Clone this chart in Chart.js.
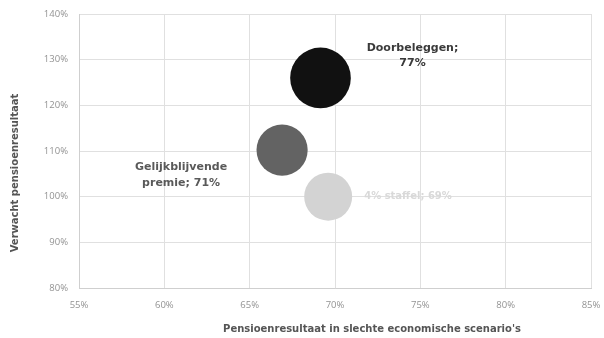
<!DOCTYPE html>
<html lang="nl">
<head>
    <meta charset="UTF-8">
    <title>Pensioenresultaat</title>
    <style>
        * { margin: 0; padding: 0; box-sizing: border-box; }
        body { background: #fff; }
        .wrap { width: 604px; height: 338px; position: relative; }
    </style>
</head>
<body>
    <div class="wrap"><canvas id="bubbleChart"></canvas></div>

    <script src="https://cdn.jsdelivr.net/npm/chart.js"></script>
    <script>
        // scenario's: x = slechte scenario's, y = verwacht resultaat, size = label waarde
        const namen = ['Doorbeleggen', 'Gelijkblijvende premie', '4% staffel'];
        const slecht = [69.15, 66.9, 69.6];
        const verwacht = [126.0, 110.2, 100.0];
        const grootte = [77, 71, 69];
        const kleuren = ['#111111', '#636363', '#d3d3d3'];
        const xTicks = [55, 60, 65, 70, 75, 80, 85];
        const yTicks = [80, 90, 100, 110, 120, 130, 140];

        const straal = v => v * 0.79 - 30.5;

        const fontBold = '700 11px "DejaVu Sans", sans-serif';
        const tickFont = { family: '"Open Sans", sans-serif', size: 9.5 };

        // labels naast de bubbels + astitels
        const tekstPlugin = {
            id: 'teksten',
            afterDatasetsDraw(chart) {
                const ctx = chart.ctx;
                const ca = chart.chartArea;
                ctx.save();
                ctx.font = fontBold;
                ctx.textBaseline = 'middle';

                const pos = chart.getDatasetMeta(0).data;

                // Doorbeleggen, rechtsboven
                ctx.fillStyle = '#3a3a3a';
                ctx.textAlign = 'center';
                ctx.fillText(namen[0] + ';', pos[0].x + 92, pos[0].y - 30);
                ctx.fillText(grootte[0] + '%', pos[0].x + 92, pos[0].y - 15);

                // Gelijkblijvende premie, links
                ctx.fillStyle = '#595959';
                const w = namen[1].split(' ');
                ctx.fillText(w[0], pos[1].x - 101, pos[1].y + 17);
                ctx.fillText(w[1] + '; ' + grootte[1] + '%', pos[1].x - 101, pos[1].y + 33);

                // 4% staffel, rechts
                ctx.font = '700 10px "DejaVu Sans", sans-serif';
                ctx.fillStyle = '#d9d9d9';
                ctx.textAlign = 'left';
                ctx.fillText(namen[2] + '; ' + grootte[2] + '%', pos[2].x + 36, pos[2].y);

                // astitels
                ctx.font = '700 10px "DejaVu Sans", sans-serif';
                ctx.fillStyle = '#555555';
                ctx.textAlign = 'center';
                ctx.fillText("Pensioenresultaat in slechte economische scenario's", ca.left + (ca.right - ca.left) / 2 + 37, 329);
                ctx.translate(15, ca.top + (ca.bottom - ca.top) / 2 + 22);
                ctx.rotate(-Math.PI / 2);
                ctx.fillText('Verwacht pensioenresultaat', 0, 0);
                ctx.restore();
            }
        };

        const ctx = document.getElementById('bubbleChart').getContext('2d');
        new Chart(ctx, {
            type: 'bubble',
            data: {
                datasets: [{
                    data: namen.map((n, i) => ({ x: slecht[i], y: verwacht[i], r: straal(grootte[i]) })),
                    backgroundColor: kleuren,
                    borderWidth: 0,
                    hoverBorderWidth: 0
                }]
            },
            options: {
                responsive: true,
                maintainAspectRatio: false,
                animation: false,
                layout: { autoPadding: false, padding: { top: 14, right: 13, left: 0, bottom: 0 } },
                plugins: {
                    legend: { display: false },
                    tooltip: { enabled: false }
                },
                scales: {
                    x: {
                        type: 'linear',
                        min: xTicks[0],
                        max: xTicks[xTicks.length - 1],
                        afterBuildTicks: s => { s.ticks = xTicks.map(v => ({ value: v })); },
                        afterFit: s => { s.height = 50; s.paddingLeft = 0; s.paddingRight = 0; },
                        grid: { color: '#e0e0e0', drawTicks: false },
                        border: { color: '#cfcfcf' },
                        ticks: {
                            padding: 12,
                            color: '#939393',
                            font: tickFont,
                            callback: v => v + '%'
                        }
                    },
                    y: {
                        min: yTicks[0],
                        max: yTicks[yTicks.length - 1],
                        afterBuildTicks: s => { s.ticks = yTicks.map(v => ({ value: v })); },
                        afterFit: s => { s.width = 79; s.paddingTop = 0; s.paddingBottom = 0; },
                        grid: { color: '#e0e0e0', drawTicks: false },
                        border: { color: '#cfcfcf' },
                        ticks: {
                            padding: 11,
                            color: '#939393',
                            font: tickFont,
                            callback: v => v + '%'
                        }
                    }
                }
            },
            plugins: [tekstPlugin]
        });
    </script>
</body>
</html>
